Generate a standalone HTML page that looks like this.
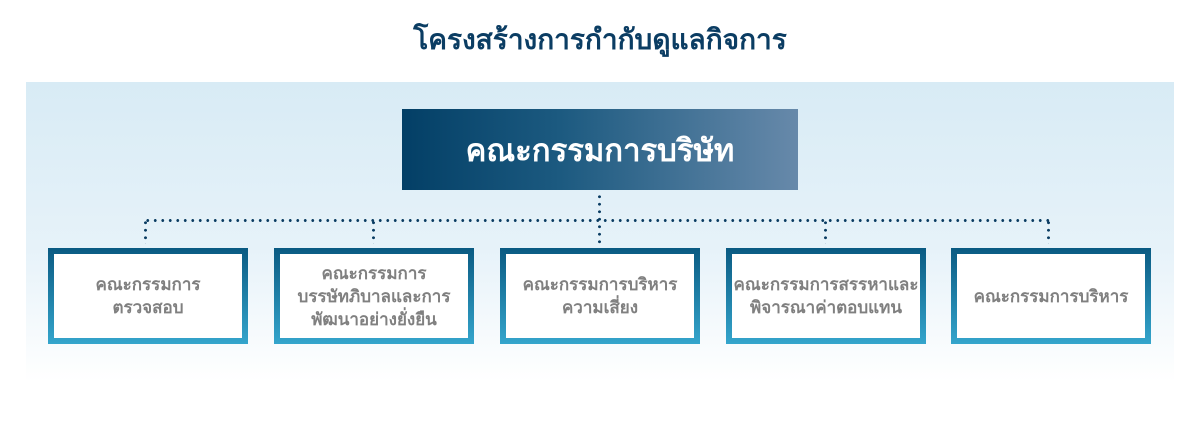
<!DOCTYPE html>
<html><head><meta charset="utf-8"><style>
body{margin:0;width:1200px;height:425px;background:#fff;position:relative;overflow:hidden;font-family:"Liberation Sans","DejaVu Sans",sans-serif}
.title{position:absolute;top:18px;left:0;width:1200px;text-align:center;font-size:28px;font-weight:bold;color:#0b3d63}
.panel{position:absolute;left:26px;top:82px;width:1148px;height:300px;background:linear-gradient(to bottom,#d8ebf5 0%,#e6f2f9 55%,#ffffff 100%)}
.top{position:absolute;left:402px;top:109px;width:396px;height:81px;background:linear-gradient(to right,#033f66,#1c5a80 40%,#6789aa);color:#fff;font-size:31px;font-weight:bold;display:flex;align-items:center;justify-content:center}
.box{position:absolute;top:248px;width:200px;height:96px;box-sizing:border-box;padding:6px;background:linear-gradient(to bottom,#0a5a82,#34a5cc)}
.box div{width:100%;height:100%;background:#fff;display:flex;align-items:center;justify-content:center;text-align:center;color:#808080;font-size:17px;line-height:23px;font-weight:bold}
.h{position:absolute;top:219px;left:144px;width:906px;height:3px;background:radial-gradient(circle,#0b3d63 1.3px,transparent 1.6px) 0 0/7.5px 3px repeat-x}
.v{position:absolute;width:3px;background:radial-gradient(circle,#0b3d63 1.3px,transparent 1.6px) 0 0/3px 7.5px repeat-y}
</style></head><body>
<div class="title">โครงสร้างการกำกับดูแลกิจการ</div>
<div class="panel"></div>
<div class="top">คณะกรรมการบริษัท</div>
<div class="v" style="left:598px;top:193px;height:51px"></div>
<div class="h"></div>
<div class="v" style="left:144px;top:219px;height:25px"></div>
<div class="v" style="left:372px;top:219px;height:25px"></div>
<div class="v" style="left:824px;top:219px;height:25px"></div>
<div class="v" style="left:1047px;top:219px;height:25px"></div>
<div class="box" style="left:48px"><div>คณะกรรมการ<br>ตรวจสอบ</div></div>
<div class="box" style="left:274px"><div>คณะกรรมการ<br>บรรษัทภิบาลและการ<br>พัฒนาอย่างยั่งยืน</div></div>
<div class="box" style="left:500px"><div>คณะกรรมการบริหาร<br>ความเสี่ยง</div></div>
<div class="box" style="left:726px"><div>คณะกรรมการสรรหาและ<br>พิจารณาค่าตอบแทน</div></div>
<div class="box" style="left:951px"><div>คณะกรรมการบริหาร</div></div>
</body></html>
